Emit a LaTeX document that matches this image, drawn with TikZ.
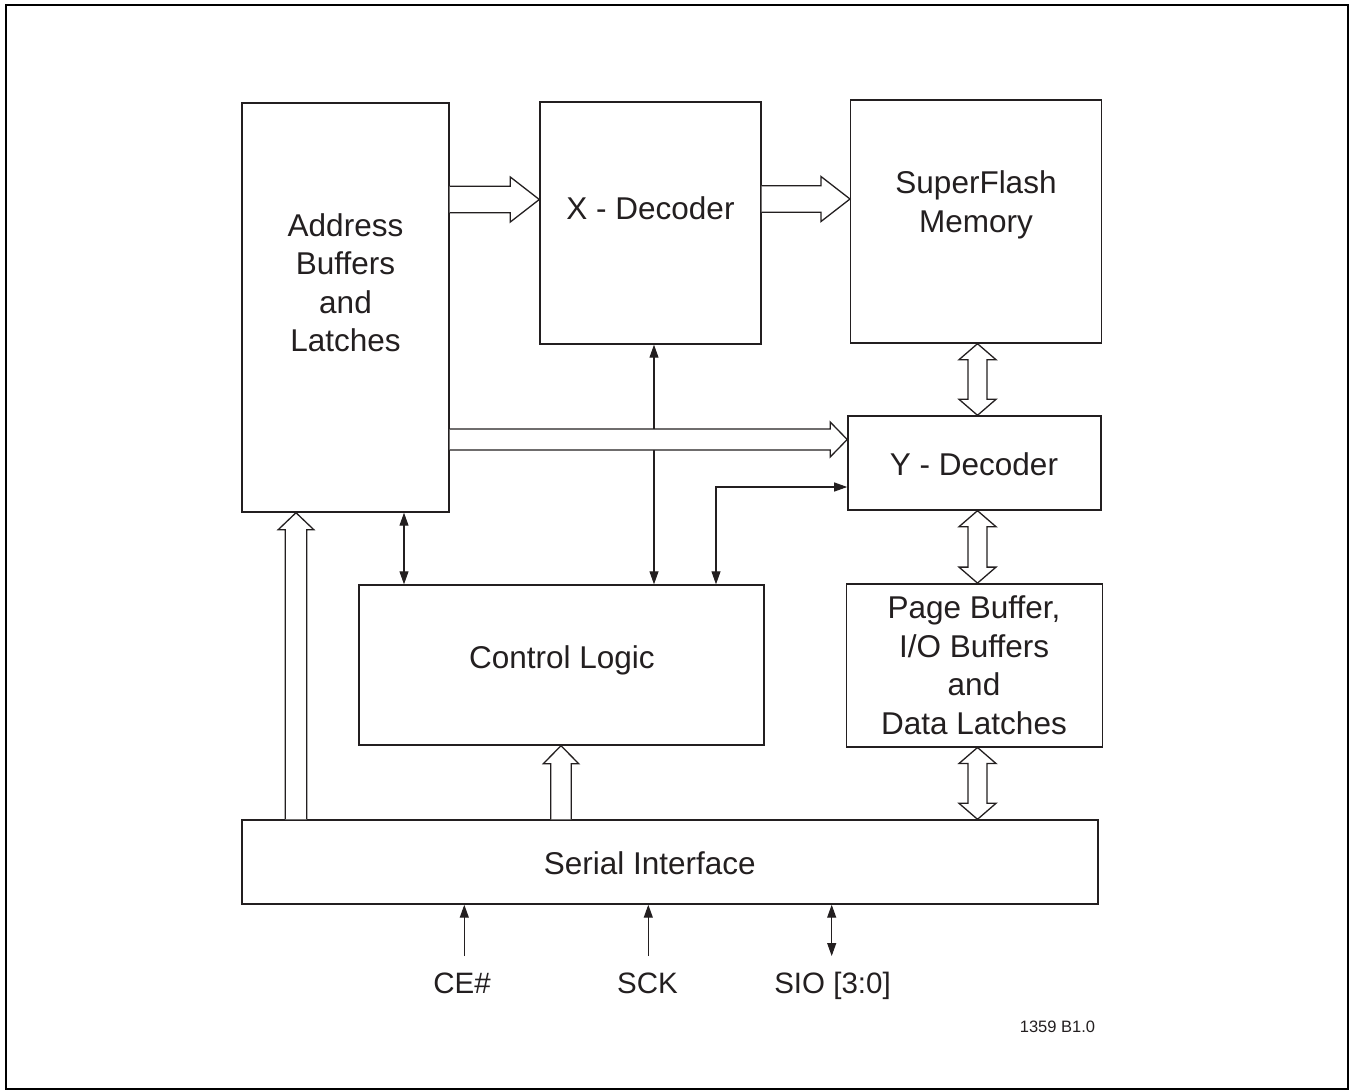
\documentclass[tikz,border=0pt]{standalone}
\usepackage{fontspec}
\setmainfont{Liberation Sans}
\usetikzlibrary{calc,arrows.meta}
\definecolor{ink}{HTML}{231F20}
\newcommand\fatR[5]{\draw[fatarrow] let \p1=#1, \p2=#2 in (\x1,\y1+#3) -- (\x2-#5,\y1+#3) -- (\x2-#5,\y1+#4) -- (\x2,\y1) -- (\x2-#5,\y1-#4) -- (\x2-#5,\y1-#3) -- (\x1,\y1-#3);}
\newcommand\fatU[5]{\draw[fatarrow] let \p1=#1, \p2=#2 in (\x1-#3,\y1) -- (\x1-#3,\y2-#5) -- (\x1-#4,\y2-#5) -- (\x1,\y2) -- (\x1+#4,\y2-#5) -- (\x1+#3,\y2-#5) -- (\x1+#3,\y1);}
\newcommand\fatUD[5]{\draw[fatarrow] let \p1=#1, \p2=#2 in (\x1,\y1) -- (\x1+#4,\y1-#5) -- (\x1+#3,\y1-#5) -- (\x1+#3,\y2+#5) -- (\x1+#4,\y2+#5) -- (\x1,\y2) -- (\x1-#4,\y2+#5) -- (\x1-#3,\y2+#5) -- (\x1-#3,\y1-#5) -- (\x1-#4,\y1-#5) -- cycle;}
\begin{document}
\begin{tikzpicture}[x=1pt,y=-1pt,
  box/.style={draw=ink,line width=1.4pt,inner sep=0pt,fill=white},
  lbl/.style={text=ink,align=center,inner sep=0pt,font=\fontsize{31.5}{38.5}\selectfont},
  pinlbl/.style={text=ink,inner sep=0pt,text height=21pt,text depth=0pt,font=\fontsize{29.5}{34}\selectfont},
  fatarrow/.style={draw=ink,fill=white,line width=1.3pt,line join=miter},
  thinarrow/.style={draw=ink,line width=1.1pt,<->},
  inarrow/.style={draw=ink,line width=1.1pt,->},
  >={Triangle[length=13pt,width=9pt]}]
\useasboundingbox (0,0) rectangle (1350,1090);
\draw[line width=2pt] (6,4.5) rectangle (1347.5,1088.5);
% boxes
\node[box,minimum width=207pt,minimum height=409pt] (addr) at (345.5,307.5) {};
\node[box,minimum width=221pt,minimum height=242pt] (xdec) at (650.5,223) {};
\node[box,minimum width=251pt,minimum height=243pt] (sf) at (976.2,221.5) {};
\node[box,minimum width=253pt,minimum height=94pt] (ydec) at (974.4,463) {};
\node[box,minimum width=405pt,minimum height=160pt] (ctrl) at (561.3,665) {};
\node[box,minimum width=256pt,minimum height=163pt] (page) at (974.2,665.3) {};
\node[box,minimum width=856pt,minimum height=84pt] (serial) at (670,862) {};
% box texts
\node[lbl] (addrT) at (345.5,282.5) {Address\\Buffers\\and\\Latches};
\node[lbl] (xdecT) at (650.5,208) {X - Decoder};
\node[lbl] (sfT) at (976,205) {SuperFlash\\Memory};
\node[lbl] (ydecT) at (974,464) {Y - Decoder};
\node[lbl] (ctrlT) at (562,660) {Control Logic};
\node[lbl] (pageT) at (974,665) {Page Buffer,\\I/O Buffers\\and\\Data Latches};
\node[lbl] (serialT) at (649.7,863) {Serial Interface};
% pins
\node[pinlbl] (ce) at (462,983) {CE\#};
\node[pinlbl] (sck) at (647.5,983) {SCK};
\node[pinlbl] (sio) at (832.5,983) {SIO [3:0]};
\node[text=ink,inner sep=0pt,font=\fontsize{16.5}{20}\selectfont] (fig) at (1057.5,1027) {1359 B1.0};
% lane coordinates
\coordinate (lx) at (654,0);
\coordinate (la) at (404,0);
\coordinate (ly) at (716,487);
\coordinate (l1) at (0,199.5);
\coordinate (l2) at (0,199);
\coordinate (l3) at (0,439.5);
\coordinate (v1) at (296,0);
\coordinate (v2) at (561,0);
\coordinate (v3) at (977.5,0);
\coordinate (pce) at (464.3,956);
\coordinate (psck) at (648.3,956);
\coordinate (psio) at (831.7,956);
% thin connectors
\draw[thinarrow] (xdec.south -| lx) -- (ctrl.north -| lx);
\draw[thinarrow] (addr.south -| la) -- (ctrl.north -| la);
\draw[thinarrow] (ctrl.north -| ly) |- (ydec.west |- ly);
\draw[inarrow] (pce) -- (serial.south -| pce);
\draw[inarrow] (psck) -- (serial.south -| psck);
\draw[thinarrow] (psio) -- (serial.south -| psio);
% fat connectors
\fatR{(addr.east |- l1)}{(xdec.west |- l1)}{13.3pt}{22.5pt}{29pt}
\fatR{(xdec.east |- l2)}{(sf.west |- l2)}{13.3pt}{22.5pt}{29pt}
\fatR{(addr.east |- l3)}{(ydec.west |- l3)}{10.5pt}{17.5pt}{17pt}
\fatU{(serial.north -| v1)}{(addr.south -| v1)}{10.8pt}{17.8pt}{17pt}
\fatU{(serial.north -| v2)}{(ctrl.south -| v2)}{10.3pt}{17.7pt}{18pt}
\fatUD{(sf.south -| v3)}{(ydec.north -| v3)}{9.5pt}{18.5pt}{16pt}
\fatUD{(ydec.south -| v3)}{(page.north -| v3)}{9.5pt}{18.5pt}{16pt}
\fatUD{(page.south -| v3)}{(serial.north -| v3)}{9.5pt}{18.5pt}{16pt}
\end{tikzpicture}
\end{document}
